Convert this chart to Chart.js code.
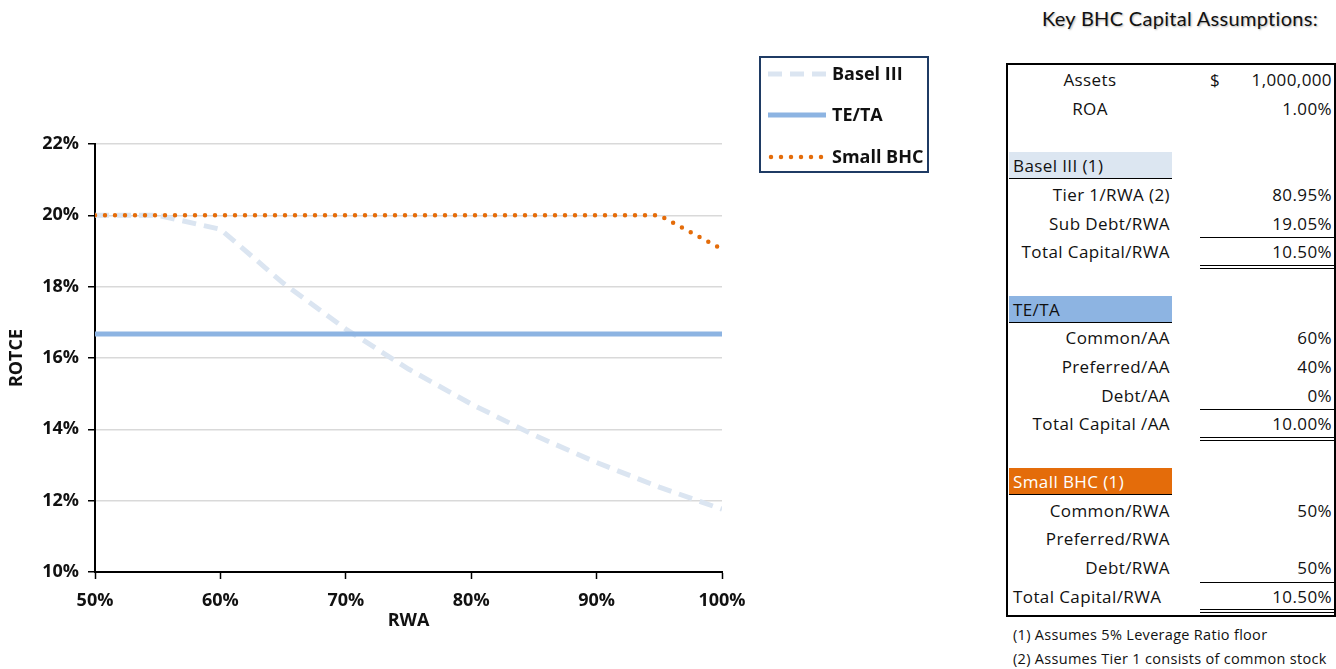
<!DOCTYPE html>
<html>
<head>
<meta charset="utf-8">
<script src="https://cdn.jsdelivr.net/npm/chart.js@4/dist/chart.umd.min.js"></script>
<style>
  html, body { margin: 0; padding: 0; background: #fff; }
  body { width: 1336px; height: 669px; position: relative; overflow: hidden; font-family: "Open Sans", Lato, sans-serif; color: #111; }
  #chartWrap { position: absolute; left: 0; top: 0; width: 940px; height: 669px; }
  #title { position: absolute; left: 1000px; width: 360px; top: 6px; text-align: center; font-family: Lato, sans-serif; font-size: 20px; letter-spacing: 0.3px;
           text-shadow: 1px 1px 2px rgba(0,0,0,0.3); }
  #box { position: absolute; left: 1006px; top: 63px; width: 326px; height: 550px; border: 2px solid #000; }
  .row { position: absolute; left: 0; width: 326px; height: 28.7px; font-size: 17px; letter-spacing: 0.4px; line-height: 28.7px; }
  .lab { position: absolute; left: 0; width: 162px; text-align: right; white-space: nowrap; }
  .lab.center { width: 164px; text-align: center; }
  .lab.left { text-align: left; left: 5px; }
  .hdr { position: absolute; left: 1px; width: 163px; height: 27px; top: 0; line-height: 28px; padding-left: 4px; box-sizing: border-box; border-bottom: 1.5px solid #000; white-space: nowrap; }
  .dol { position: absolute; left: 202px; }
  .val { position: absolute; right: 2px; text-align: right; }
  .u1 { position: absolute; left: 192px; width: 134px; border-bottom: 1.5px solid #000; }
  .u2 { position: absolute; left: 192px; width: 134px; height: 2px; border-top: 1.5px solid #000; border-bottom: 1.5px solid #000; }
  #notes { position: absolute; left: 1013px; top: 623px; font-size: 14.5px; letter-spacing: 0.3px; line-height: 24px; white-space: nowrap; }
</style>
</head>
<body>
<div id="chartWrap"><canvas id="c" width="940" height="669"></canvas></div>
<div id="title">Key BHC Capital Assumptions:</div>
<div id="box"></div>
<div id="notes"></div>
<script>
// RWA as a percent of assets, sampled every 5 points
const rwa = [50, 55, 60, 65, 70, 75, 80, 85, 90, 95, 100];
// Return on tangible common equity (%) under each capital regime
const baselIII = [20.00, 20.00, 19.61, 18.10, 16.81, 15.69, 14.71, 13.84, 13.07, 12.38, 11.76];
const teTa     = [16.67, 16.67, 16.67, 16.67, 16.67, 16.67, 16.67, 16.67, 16.67, 16.67, 16.67];
const smallBhc = [20.00, 20.00, 20.00, 20.00, 20.00, 20.00, 20.00, 20.00, 20.00, 20.00, 19.05];
const seriesNames = ['Basel III', 'TE/TA', 'Small BHC'];
const yTicks = [10, 12, 14, 16, 18, 20, 22];
const xTicks = [50, 60, 70, 80, 90, 100];

// Assumptions table: [label, value, style, headerColor, headerText]
const tableRows = [
  ['Assets', '1,000,000', 'center dollar'],
  ['ROA', '1.00%', 'center'],
  ['', '', ''],
  ['Basel III (1)', '', 'header', '#dce6f1', '#111'],
  ['Tier 1/RWA (2)', '80.95%', ''],
  ['Sub Debt/RWA', '19.05%', 'u1'],
  ['Total Capital/RWA', '10.50%', 'u2'],
  ['', '', ''],
  ['TE/TA', '', 'header', '#8db4e2', '#111'],
  ['Common/AA', '60%', ''],
  ['Preferred/AA', '40%', ''],
  ['Debt/AA', '0%', 'u1'],
  ['Total Capital /AA', '10.00%', 'u2'],
  ['', '', ''],
  ['Small BHC (1)', '', 'header', '#e46c0a', '#fff'],
  ['Common/RWA', '50%', ''],
  ['Preferred/RWA', '', ''],
  ['Debt/RWA', '50%', 'u1'],
  ['Total Capital/RWA', '10.50%', 'left u2'],
];
const footnotes = ['(1) Assumes 5% Leverage Ratio floor', '(2) Assumes Tier 1 consists of common stock'];

// build the assumptions table
const box = document.getElementById('box');
const rowH = 28.7;
tableRows.forEach((r, i) => {
  const [label, value, style, bg, fg] = r;
  const row = document.createElement('div');
  row.className = 'row';
  row.style.top = (1 + i * rowH) + 'px';
  if (style.includes('header')) {
    const h = document.createElement('div');
    h.className = 'hdr';
    h.style.background = bg;
    h.style.color = fg;
    h.textContent = label;
    row.appendChild(h);
  } else {
    const l = document.createElement('div');
    l.className = 'lab' + (style.includes('center') ? ' center' : '') + (style.includes('left') ? ' left' : '');
    l.textContent = label;
    row.appendChild(l);
    if (style.includes('dollar')) {
      const d = document.createElement('div');
      d.className = 'dol';
      d.textContent = '$';
      row.appendChild(d);
    }
    const v = document.createElement('div');
    v.className = 'val';
    v.textContent = value;
    row.appendChild(v);
    if (style.includes('u1')) {
      const u = document.createElement('div');
      u.className = 'u1';
      u.style.top = (rowH - 1) + 'px';
      row.appendChild(u);
    }
    if (style.includes('u2')) {
      const u = document.createElement('div');
      u.className = 'u2';
      u.style.top = (rowH - 2) + 'px';
      row.appendChild(u);
    }
  }
  box.appendChild(row);
});
document.getElementById('notes').innerHTML = footnotes.map(t => '<div>' + t + '</div>').join('');

const pts = arr => arr.map((v, i) => ({x: rwa[i], y: v}));
const FONT = '"Open Sans", Lato, sans-serif';

// legend drawn in a framed box beside the plot, using each dataset's own stroke style
const boxLegend = {
  id: 'boxLegend',
  afterDraw(chart) {
    const ctx = chart.ctx;
    ctx.save();
    ctx.strokeStyle = '#1f3b64';
    ctx.lineWidth = 2;
    ctx.strokeRect(760, 57, 168, 115);
    const ys = [74, 115, 157];
    chart.data.datasets.forEach((ds, i) => {
      ctx.beginPath();
      ctx.strokeStyle = ds.borderColor;
      ctx.lineWidth = ds.borderWidth;
      ctx.lineCap = ds.borderCapStyle || 'butt';
      ctx.setLineDash(ds.borderDash || []);
      ctx.moveTo(i === 2 ? 771 : 768, ys[i]);
      ctx.lineTo(826, ys[i]);
      ctx.stroke();
      ctx.setLineDash([]);
      ctx.fillStyle = '#111';
      ctx.font = 'bold 18px ' + FONT;
      ctx.textBaseline = 'middle';
      ctx.fillText(ds.label, 832, ys[i] + 1);
    });
    ctx.restore();
  }
};

new Chart(document.getElementById('c'), {
  type: 'line',
  data: {
    datasets: [
      { label: seriesNames[0], data: pts(baselIII), order: 3, borderColor: '#dbe5f1', borderWidth: 5, borderDash: [14, 8], pointRadius: 0, tension: 0 },
      { label: seriesNames[1], data: pts(teTa), order: 2, borderColor: '#8db4e2', borderWidth: 5, pointRadius: 0, tension: 0 },
      { label: seriesNames[2], data: pts(smallBhc), order: 1, borderColor: '#e46c0a', borderWidth: 4.5, borderDash: [0, 10], borderCapStyle: 'round', pointRadius: 0, tension: 0 },
    ]
  },
  options: {
    responsive: false,
    animation: false,
    layout: { padding: { top: 144, right: 218, left: 0, bottom: 0 } },
    plugins: { legend: { display: false }, tooltip: { enabled: false } },
    scales: {
      x: {
        type: 'linear', min: 50, max: 100,
        afterBuildTicks: s => { s.ticks = xTicks.map(v => ({value: v})); },
        afterFit: s => { s.height = 669 - 572; },
        grid: { display: true, drawOnChartArea: false, tickLength: 7, tickColor: '#000', tickWidth: 1.5 },
        border: { color: '#000', width: 2 },
        ticks: { color: '#111', font: { family: FONT, size: 18, weight: 'bold' }, padding: 11, maxRotation: 0,
                 callback: v => v + '%' },
        title: { display: true, text: 'RWA', color: '#111', font: { family: FONT, size: 18, weight: 'bold' }, padding: { top: 0, bottom: 37 } }
      },
      y: {
        min: 10, max: 22,
        afterBuildTicks: s => { s.ticks = yTicks.map(v => ({value: v})); },
        afterFit: s => { s.width = 95; },
        grid: { color: '#d9d9d9', lineWidth: 1.5, tickLength: 7, tickColor: '#000', tickWidth: 1.5 },
        border: { color: '#000', width: 2 },
        ticks: { color: '#111', font: { family: FONT, size: 18, weight: 'bold' }, padding: 9,
                 callback: v => v + '%' },
        title: { display: true, text: 'ROTCE', color: '#111', font: { family: FONT, size: 18, weight: 'bold' }, padding: { top: 6, bottom: 0 } }
      }
    }
  },
  plugins: [boxLegend]
});
</script>
</body>
</html>
